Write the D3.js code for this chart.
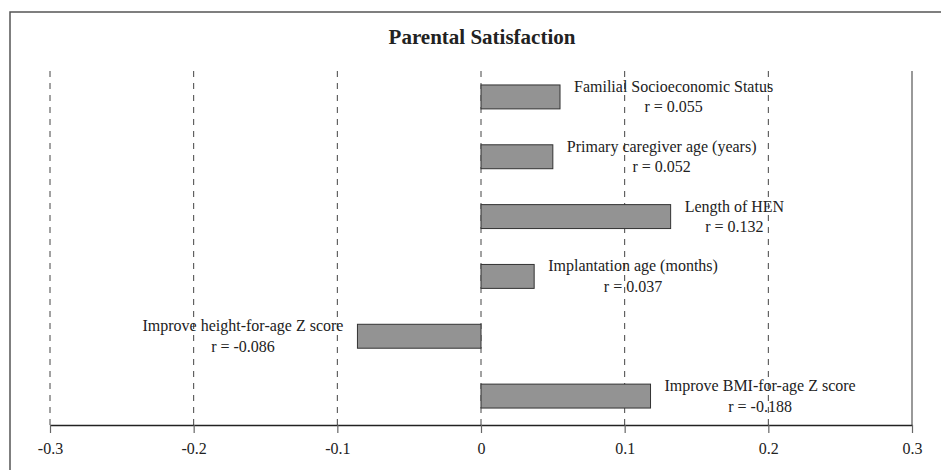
<!DOCTYPE html>
<html>
<head>
<meta charset="utf-8">
<script src="https://cdn.jsdelivr.net/npm/d3@7"></script>
<style>
  html, body { margin: 0; padding: 0; background: #fff; }
  svg { display: block; }
  text { font-family: "Liberation Serif", "Times New Roman", serif; fill: #222; }
</style>
</head>
<body>
<svg id="chart" width="941" height="470"></svg>
<script>
// ---- data ----
const categories = [
  "Familial Socioeconomic Status",
  "Primary caregiver age (years)",
  "Length of HEN",
  "Implantation age (months)",
  "Improve height-for-age Z score",
  "Improve BMI-for-age Z score"
];
const barValues = [0.055, 0.05, 0.132, 0.037, -0.086, 0.118];
const rLabels = ["r = 0.055", "r = 0.052", "r = 0.132", "r = 0.037", "r = -0.086", "r = -0.188"];
const tickLabels = [-0.3, -0.2, -0.1, 0, 0.1, 0.2, 0.3];
const title = "Parental Satisfaction";

// ---- layout ----
const W = 941, H = 470;
const svg = d3.select("#chart");
const plotTop = 71, plotBottom = 425;

const x = d3.scaleLinear().domain([-0.3, 0.3]).range([50, 912]);
const y = d3.scaleBand().domain(categories).range([67, 426]).paddingInner(0).paddingOuter(0);

// frame (cut off at right and bottom)
svg.append("path")
  .attr("d", `M10,${H + 5} L10,12 L${W + 5},12`)
  .attr("fill", "none").attr("stroke", "#555").attr("stroke-width", 1.5);

// title
svg.append("text")
  .attr("x", 482).attr("y", 44)
  .attr("text-anchor", "middle")
  .attr("font-size", 21).attr("font-weight", "bold")
  .text(title);

// gridlines
svg.append("g").selectAll("line")
  .data(tickLabels)
  .join("line")
  .attr("x1", d => x(d)).attr("x2", d => x(d))
  .attr("y1", plotTop).attr("y2", plotBottom)
  .attr("stroke", d => d === 0.3 ? "#777" : "#444")
  .attr("stroke-width", d => d === 0.3 ? 1.5 : 1)
  .attr("stroke-dasharray", d => d === 0.3 ? null : "6,6");

// bars
const bh = y.bandwidth() * 0.4;
svg.append("g").selectAll("rect")
  .data(categories)
  .join("rect")
  .attr("x", (d, i) => x(Math.min(0, barValues[i])))
  .attr("width", (d, i) => Math.abs(x(barValues[i]) - x(0)))
  .attr("y", d => y(d) + (y.bandwidth() - bh) / 2)
  .attr("height", bh)
  .attr("fill", "#939393")
  .attr("stroke", "#333")
  .attr("stroke-width", 1);

// axis
const axis = d3.axisBottom(x)
  .tickValues(tickLabels)
  .tickFormat(d => String(d))
  .tickSize(8).tickSizeOuter(0).tickPadding(10);
const gAxis = svg.append("g")
  .attr("transform", `translate(0,${plotBottom})`)
  .call(axis);
gAxis.select(".domain").attr("stroke", "#222").attr("stroke-width", 1.3);
gAxis.selectAll(".tick line").attr("stroke", "#666").attr("stroke-width", 1.2);
gAxis.selectAll(".tick text")
  .attr("font-family", "Liberation Serif, Times New Roman, serif")
  .attr("font-size", 16).attr("fill", "#222");

// labels
const gap = 14;
const lg = svg.append("g");
categories.forEach((c, i) => {
  const cy = y(c) + y.bandwidth() / 2;
  const v = barValues[i];
  const t1 = lg.append("text")
    .attr("font-size", 16).attr("text-anchor", "middle")
    .attr("y", cy - 5).text(c);
  const w = t1.node().getComputedTextLength();
  const cx = v >= 0 ? x(v) + gap + w / 2 : x(v) - gap - w / 2;
  t1.attr("x", cx);
  lg.append("text")
    .attr("font-size", 16).attr("text-anchor", "middle")
    .attr("x", cx).attr("y", cy + 15.5).text(rLabels[i]);
});
</script>
</body>
</html>
